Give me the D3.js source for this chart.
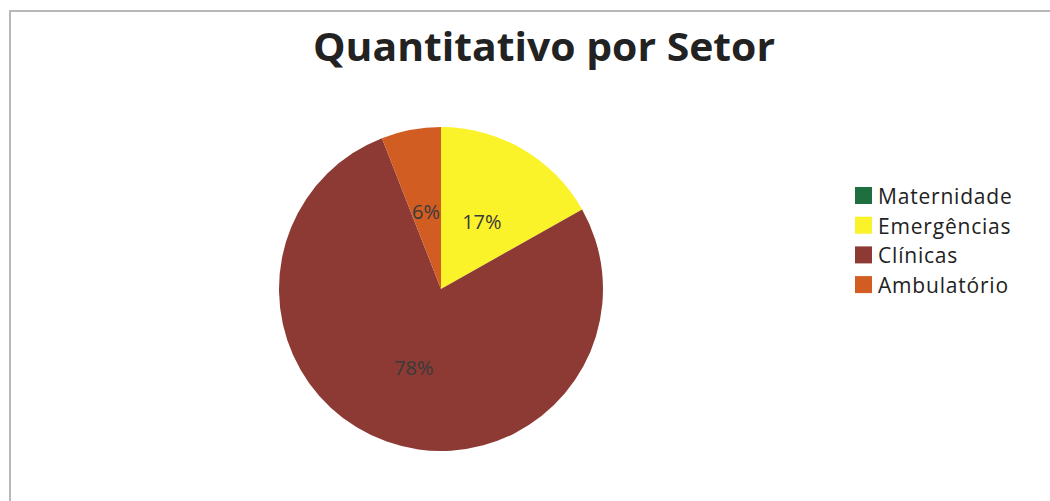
<!DOCTYPE html>
<html>
<head>
<meta charset="utf-8">
<script src="https://cdn.jsdelivr.net/npm/d3@7"></script>
<style>
html,body{margin:0;padding:0;background:#fff;}
svg{display:block;}
</style>
</head>
<body>
<svg id="chart" width="1050" height="501"></svg>
<script>
const categories = ["Maternidade", "Emergências", "Clínicas", "Ambulatório"];
const values = [0, 17, 78, 6];
const labels = ["", "17%", "78%", "6%"];
const colors = ["#1f6e40", "#fbf32a", "#8c3a33", "#d15d22"];
const title = "Quantitativo por Setor";

const svg = d3.select("#chart");

// frame
svg.append("path")
  .attr("d", "M10,501 L10,11 L1050,11")
  .attr("fill", "none").attr("stroke", "#b8b8b8").attr("stroke-width", 2);

// title
svg.append("text")
  .attr("x", 544).attr("y", 61)
  .attr("text-anchor", "middle")
  .attr("font-family", "'Open Sans', sans-serif")
  .attr("font-weight", "bold")
  .attr("font-size", 39)
  .attr("fill", "#222")
  .attr("textLength", 462).attr("lengthAdjust", "spacingAndGlyphs")
  .text(title);

// pie
const cx = 441, cy = 289, r = 162;
const pie = d3.pie().sort(null).value(d => d)(values);
const arc = d3.arc().innerRadius(0).outerRadius(r);
const g = svg.append("g").attr("transform", `translate(${cx},${cy})`);
g.selectAll("path").data(pie).join("path")
  .attr("d", arc)
  .attr("fill", (d, i) => colors[i]);

const labelArc = d3.arc().innerRadius(r * 0.5).outerRadius(r * 0.5);
g.selectAll("text.lbl").data(pie).join("text")
  .attr("class", "lbl")
  .attr("x", d => labelArc.centroid(d)[0])
  .attr("y", d => labelArc.centroid(d)[1] + 2)
  .attr("text-anchor", "middle")
  .attr("dominant-baseline", "central")
  .attr("font-family", "'Open Sans', sans-serif")
  .attr("font-size", 20)
  .attr("fill", "#3a3a3a")
  .text((d, i) => labels[i]);

// legend
const lg = svg.append("g").attr("transform", "translate(855,187)");
const rows = lg.selectAll("g").data(categories).join("g")
  .attr("transform", (d, i) => `translate(0,${i * 29.7})`);
rows.append("rect").attr("width", 17).attr("height", 17)
  .attr("fill", (d, i) => colors[i]);
rows.append("text")
  .attr("x", 23).attr("y", 9)
  .attr("dominant-baseline", "central")
  .attr("font-family", "'Open Sans', sans-serif")
  .attr("font-size", 21)
  .attr("letter-spacing", 0.8)
  .attr("fill", "#222")
  .text(d => d);
</script>
</body>
</html>
